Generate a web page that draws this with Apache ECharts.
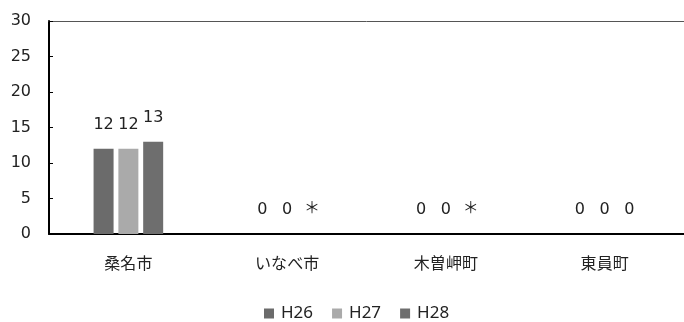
<!DOCTYPE html>
<html>
<head>
<meta charset="utf-8">
<script src="https://cdn.jsdelivr.net/npm/echarts@6/dist/echarts.min.js"></script>
<style>
  html, body { margin: 0; padding: 0; background: #fff; }
  #chart { width: 684px; height: 322px; }
</style>
</head>
<body>
<div id="chart"></div>
<script>
// 市町別の件数
var categories = ['桑名市', 'いなべ市', '木曽岬町', '東員町'];
var h26 = [12, 0, 0, 0];
var h27 = [12, 0, 0, 0];
var h28 = [13, null, null, 0]; // null は「*」表示
var seriesNames = ['H26', 'H27', 'H28'];
var colors = ['#6b6b6b', '#aaaaaa', '#6e6e6e'];

var font = 'DejaVu Sans, "Noto Sans CJK JP", sans-serif';

function toData(arr) {
    var out = [];
    for (var i = 0; i < arr.length; i++) {
        if (arr[i] == null) {
            out.push({ value: 0, label: { formatter: '＊', fontFamily: '"Noto Sans CJK JP"', fontSize: 16, distance: 19 } });
        } else {
            out.push(arr[i]);
        }
    }
    return out;
}

var allData = [h26, h27, h28];
var series = [];
for (var k = 0; k < seriesNames.length; k++) {
    series.push({
        name: seriesNames[k],
        type: 'bar',
        data: toData(allData[k]),
        barWidth: 20,
        barGap: '24%',
        itemStyle: { color: colors[k] },
        label: {
            show: true,
            position: 'top',
            distance: 16,
            color: '#222',
            fontSize: 16,
            fontFamily: font
        }
    });
}

var myChart = echarts.init(document.getElementById('chart'));
var option = {
    animation: false,
    grid: { left: 49, right: 0, top: 21, bottom: 88 },
    legend: {
        top: 300,
        left: 259,
        itemWidth: 10,
        itemHeight: 10,
        itemGap: 19,
        icon: 'rect',
        textStyle: { color: '#222', fontSize: 17, fontFamily: '"Noto Sans", sans-serif', padding: [0, 0, 0, 2] },
        data: seriesNames
    },
    xAxis: [
        {
            type: 'category',
            data: categories,
            axisLine: { lineStyle: { color: '#000', width: 2 } },
            axisTick: { show: false },
            axisLabel: { margin: 23, color: '#222', fontSize: 16, fontFamily: font }
        },
        {
            type: 'category',
            position: 'top',
            data: categories,
            axisLine: { lineStyle: { color: '#555', width: 1 } },
            axisTick: { show: false },
            axisLabel: { show: false }
        }
    ],
    yAxis: {
        type: 'value',
        min: 0,
        max: 30,
        interval: 5,
        axisLine: { show: true, lineStyle: { color: '#000', width: 2 } },
        axisTick: { show: true, inside: true, length: 4, lineStyle: { color: '#000' } },
        splitLine: { show: false },
        axisLabel: { margin: 18, color: '#222', fontSize: 16, fontFamily: font }
    },
    series: series
};
myChart.setOption(option);
</script>
</body>
</html>
